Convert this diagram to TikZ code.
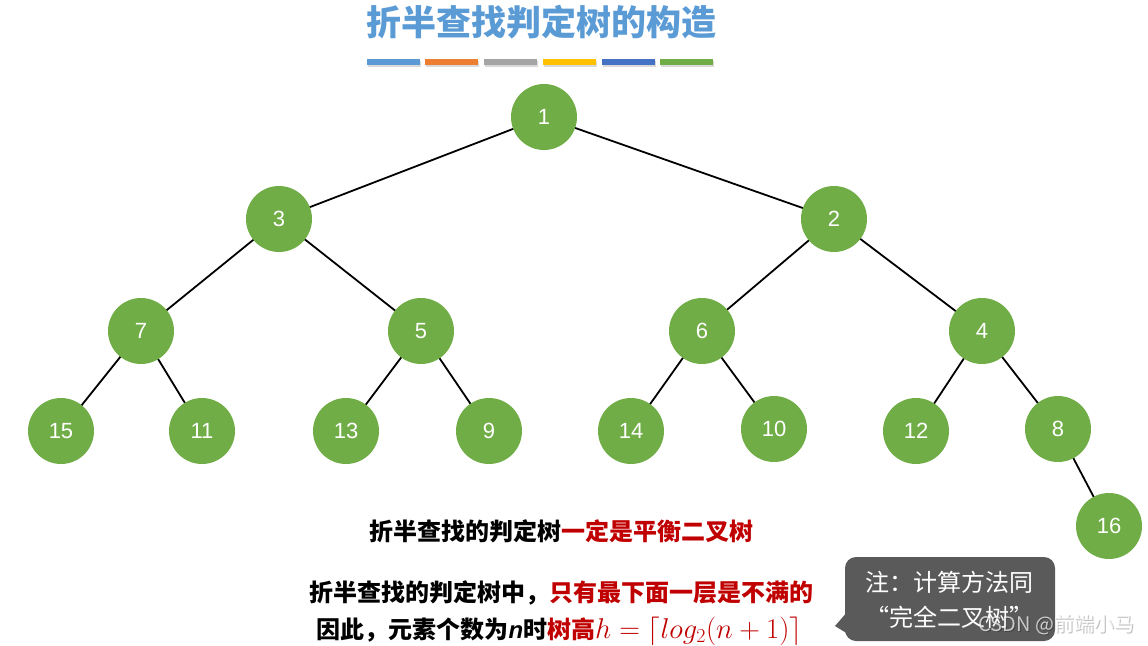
\documentclass[tikz,border=0pt]{standalone}
\usepackage{graphicx}
\usepackage{fontspec}
\setmainfont{Liberation Sans}
\newfontfamily\cjk{Noto Sans CJK SC}
\newfontfamily\lsans{Liberation Sans}
\usetikzlibrary{shadows}
\definecolor{tgreen}{HTML}{70AD47}
\definecolor{tblue}{HTML}{5B9BD5}
\definecolor{torange}{HTML}{ED7D31}
\definecolor{tgray}{HTML}{A5A5A5}
\definecolor{tyellow}{HTML}{FFC000}
\definecolor{tdblue}{HTML}{4472C4}
\definecolor{tred}{HTML}{C00000}
\definecolor{calloutgray}{HTML}{5A5A5A}
\begin{document}
\begin{tikzpicture}[x=1pt,y=-1pt,
  tn/.style={circle,fill=tgreen,minimum size=66pt,inner sep=0pt,text=white,font=\fontsize{22}{26}\selectfont},
  edge/.style={line width=1.8pt,black},
  bar/.style={minimum width=53pt,minimum height=6pt,inner sep=0pt,drop shadow={shadow xshift=1pt,shadow yshift=-2pt,opacity=0.3}},
  body/.style={font=\cjk\bfseries\fontsize{24}{28}\selectfont},
  note/.style={font=\cjk\fontsize{24}{28}\selectfont,text=white}]
\useasboundingbox (0,0) rectangle (1148,645);
% title
\node[font=\cjk\bfseries\fontsize{35}{40}\selectfont,text=tblue] (title) at (541,22) {折半查找判定树的构造};
\node[bar,fill=tblue]   (b1) at (393.5,62) {};
\node[bar,fill=torange] (b2) at (451,62) {};
\node[bar,fill=tgray]   (b3) at (510,62) {};
\node[bar,fill=tyellow] (b4) at (569,62) {};
\node[bar,fill=tdblue]  (b5) at (628,62) {};
\node[bar,fill=tgreen]  (b6) at (686.5,62) {};
% node positions
\coordinate (c1) at (544,117);
\coordinate (c3) at (279,219);
\coordinate (c2) at (834,219);
\coordinate (c7) at (141,331);
\coordinate (c5) at (421,331);
\coordinate (c6) at (702,331);
\coordinate (c4) at (982,331);
\coordinate (c15) at (61,431);
\coordinate (c11) at (202,431);
\coordinate (c13) at (346,431);
\coordinate (c9) at (489,431);
\coordinate (c14) at (631,431);
\coordinate (c10) at (774,429);
\coordinate (c12) at (916,431);
\coordinate (c8) at (1058,429);
\coordinate (c16) at (1109,526);
\draw[edge] (c1)--(c3) (c1)--(c2) (c3)--(c7) (c3)--(c5) (c2)--(c6) (c2)--(c4)
  (c7)--(c15) (c7)--(c11) (c5)--(c13) (c5)--(c9) (c6)--(c14) (c6)--(c10)
  (c4)--(c12) (c4)--(c8) (c8)--(c16);
\node[tn] (n1) at (c1) {1};
\node[tn] (n3) at (c3) {3};
\node[tn] (n2) at (c2) {2};
\node[tn] (n7) at (c7) {7};
\node[tn] (n5) at (c5) {5};
\node[tn] (n6) at (c6) {6};
\node[tn] (n4) at (c4) {4};
\node[tn] (n15) at (c15) {15};
\node[tn] (n11) at (c11) {11};
\node[tn] (n13) at (c13) {13};
\node[tn] (n9) at (c9) {9};
\node[tn] (n14) at (c14) {14};
\node[tn] (n10) at (c10) {10};
\node[tn] (n12) at (c12) {12};
\node[tn] (n8) at (c8) {8};
\node[tn] (n16) at (c16) {16};
% texts
\node[body] (t1) at (561,531) {折半查找的判定树\textcolor{tred}{一定是平衡二叉树}};
\node[body] (t2) at (561,593) {折半查找的判定树中，\textcolor{tred}{只有最下面一层是不满的}};
\node[body,anchor=base west] (t3) at (313,638) {因此，元素个数为{\lsans\bfseries\itshape n}时\textcolor{tred}{树高\scalebox{1.15}{$h=\lceil log_2(n+1)\rceil$}}};
% callout
\fill[calloutgray,rounded corners=11pt] (845,557) rectangle (1055,641);
\fill[calloutgray] (848,611) -- (835,626) -- (848,634) -- cycle;
\node[note] (k1) at (949,582) {注：计算方法同};
\node[note] (k2) at (949,617) {“完全二叉树”};
% watermark
\node[font=\cjk\fontsize{20}{24}\selectfont,text=black,opacity=0.25,anchor=west] (wms) at (976,626) {CSDN @前端小马};
\node[font=\cjk\fontsize{20}{24}\selectfont,text=white,opacity=0.7,anchor=west] (wm) at (975,625) {CSDN @前端小马};
\end{tikzpicture}
\end{document}
